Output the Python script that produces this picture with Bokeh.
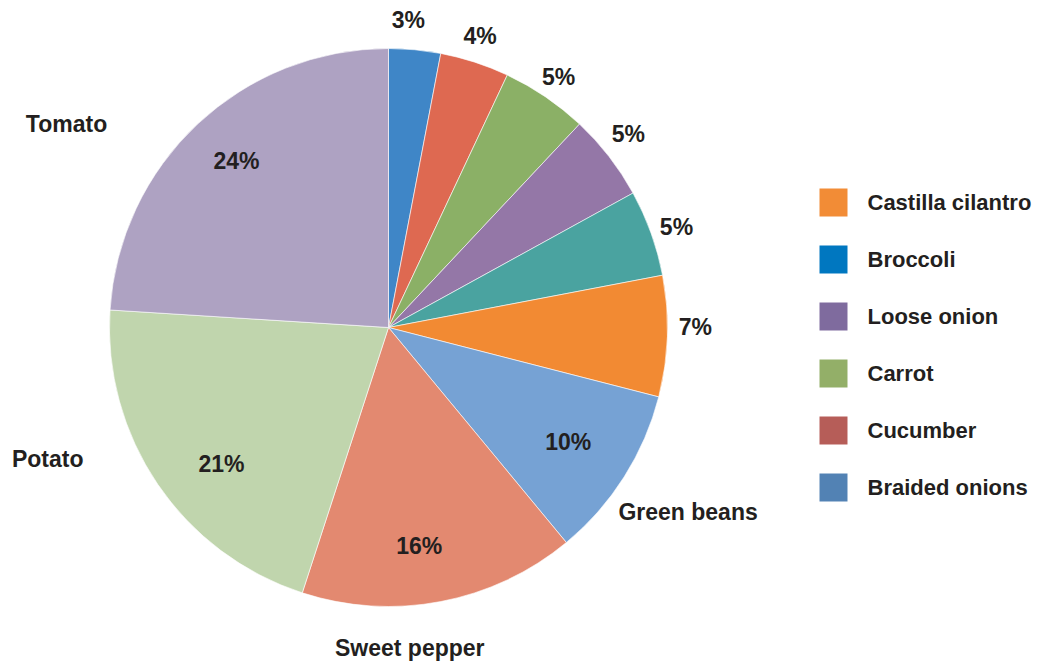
import math
from bokeh.plotting import figure
from bokeh.models import Range1d, ColumnDataSource
from bokeh.core.properties import value
from bokeh.embed import file_html
from bokeh.resources import INLINE

# Slices, clockwise from 12 o'clock
categories = ["Broccoli", "Cucumber", "Carrot", "Loose onion", "Braided onions",
              "Castilla cilantro", "Green beans", "Sweet pepper", "Potato", "Tomato"]
shares = [3, 4, 5, 5, 5, 7, 10, 16, 21, 24]
slice_colors = ["#3F86C7", "#DE6951", "#8BB066", "#9477A7", "#4AA3A0",
                "#F28A33", "#76A2D4", "#E38970", "#C0D5AD", "#AEA2C2"]

# Pixel nudges for the percentage labels (screen x right, y down)
pct_nudge = [(-9, -3), (-3, 0), (-2, 3), (-2, -6), (0, 3),
             (1, -10), (-4, -2), (-10, 5), (13, 14), (-3, -8)]

# Categories named beside the pie, with pixel nudges from the rim point
named = {"Tomato": (-131, 0), "Potato": (-110, -25),
         "Sweet pepper": (-31, 46), "Green beans": (64, 35)}

legend_labels = ["Castilla cilantro", "Broccoli", "Loose onion", "Carrot",
                 "Cucumber", "Braided onions"]
legend_colors = ["#F28C36", "#0077C0", "#7F6B9E", "#93AF68", "#B65D58", "#5282B4"]

W, H = 1037, 662
CX, CY, R = 388, H - 327, 279
FONT = value("Liberation Sans")
INK = "#231F20"
SIZE = "23px"
LEGEND_SIZE = "22px"

p = figure(width=W, height=H, output_backend="svg", toolbar_location=None,
           x_range=Range1d(0, W), y_range=Range1d(0, H), min_border=0)
p.axis.visible = False
p.grid.visible = False
p.outline_line_color = None
p.background_fill_color = "white"

total = sum(shares)
starts, ends, mids = [], [], []
acc = 0.0
for v in shares:
    a0 = acc / total * 2 * math.pi
    acc += v
    a1 = acc / total * 2 * math.pi
    # clockwise-from-top -> Bokeh's counter-clockwise-from-x
    starts.append(math.pi / 2 - a1)
    ends.append(math.pi / 2 - a0)
    mids.append((a0 + a1) / 2)

src = ColumnDataSource(dict(start=starts, end=ends, color=slice_colors))
p.wedge(x=CX, y=CY, radius=R, start_angle="start", end_angle="end",
        fill_color="color", line_color="white", line_width=0.6, source=src)

# Percentage labels: inside for large slices, outside for small ones
for v, m, (dx, dy) in zip(shares, mids, pct_nudge):
    r = R * 0.78 if v >= 10 else R * 1.097
    p.text(x=[CX + r * math.sin(m)], y=[CY + r * math.cos(m)], text=[f"{v}%"],
           x_offset=dx, y_offset=dy, text_font=FONT, text_font_style="bold",
           text_font_size=SIZE, text_color=INK, text_align="center",
           text_baseline="middle")

# Category names
for cat, v, m in zip(categories, shares, mids):
    if cat not in named:
        continue
    dx, dy = named[cat]
    p.text(x=[CX + R * math.sin(m)], y=[CY + R * math.cos(m)], text=[cat],
           x_offset=dx, y_offset=dy, text_font=FONT, text_font_style="bold",
           text_font_size=SIZE, text_color=INK, text_align="center",
           text_baseline="middle")

# Legend
lx, ly0, step, sq = 833, H - 202, 57, 28
ly = [ly0 - i * step for i in range(len(legend_labels))]
p.rect(x=[lx] * len(ly), y=ly, width=sq, height=sq, fill_color=legend_colors,
       line_color=None)
p.text(x=[lx + 34] * len(ly), y=ly, text=legend_labels, text_font=FONT,
       text_font_style="bold", text_font_size=LEGEND_SIZE, text_color=INK,
       text_align="left", text_baseline="middle")

open("out.html", "w").write(file_html(p, INLINE))
